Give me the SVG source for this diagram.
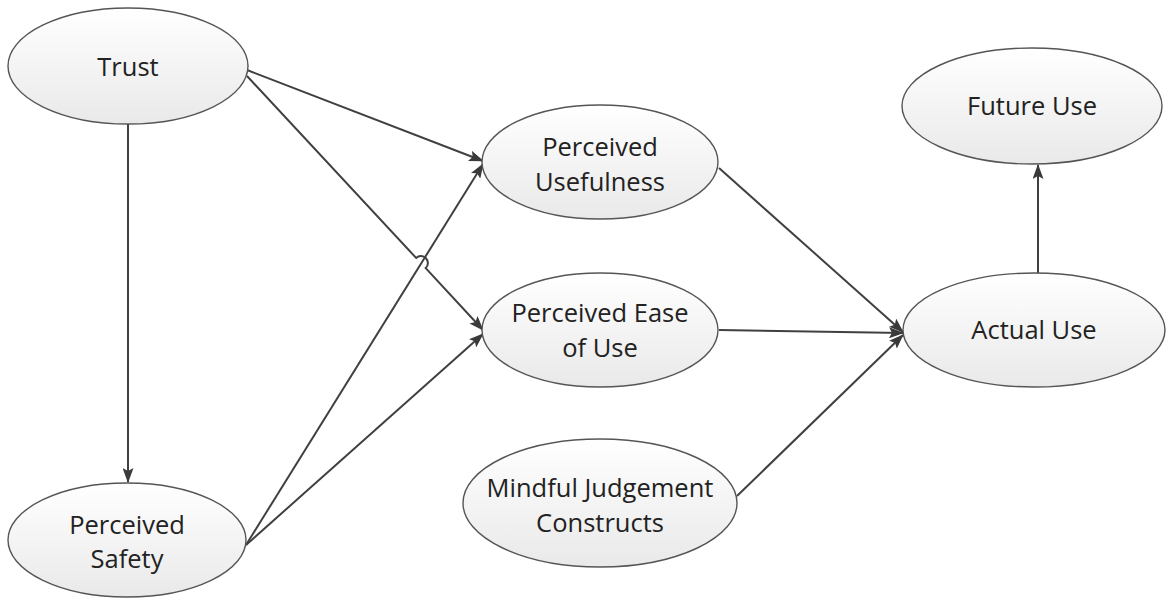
<svg xmlns="http://www.w3.org/2000/svg" width="1168" height="599" viewBox="0 0 1168 599">
<defs>
<linearGradient id="g" x1="0" y1="0" x2="0" y2="1">
<stop offset="0" stop-color="#ffffff"/>
<stop offset="1" stop-color="#e9e9e9"/>
</linearGradient>
<marker id="arr" viewBox="0 0 15 11" refX="14" refY="5.5" markerWidth="15" markerHeight="11" markerUnits="userSpaceOnUse" orient="auto">
<path d="M0,0 L15,5.5 L0,11 L3,5.5 Z" fill="#3a3a3a"/>
</marker>
<style>
.n ellipse{fill:url(#g);stroke:#555555;stroke-width:1.4}
.n text{font-family:"Open Sans","Liberation Sans",sans-serif;font-size:25.5px;fill:#222222;text-anchor:middle}
.c path,.c line{stroke:#404040;stroke-width:2;fill:none;marker-end:url(#arr)}
</style>
</defs>
<rect width="1168" height="599" fill="#fff"/>
<g class="c" id="connectors">
<line x1="128" y1="124" x2="128" y2="482"/>
<line x1="247" y1="70" x2="483" y2="161"/>
<path d="M247,76 L416.1,257.9 A7,7 0 0 1 425.7,268.1 L483,330"/>
<line x1="246" y1="545" x2="483" y2="164"/>
<line x1="246" y1="545" x2="483" y2="334"/>
<line x1="719" y1="168" x2="903" y2="332"/>
<line x1="719" y1="330" x2="903" y2="333"/>
<line x1="737" y1="496" x2="903" y2="335"/>
<line x1="1038" y1="273" x2="1038" y2="165"/>
</g>
<g class="n" id="trust"><ellipse cx="128" cy="66" rx="120" ry="58"/><text x="128" y="76">Trust</text></g>
<g class="n" id="perceived-safety"><ellipse cx="127" cy="540" rx="119" ry="57"/><text x="127" y="534">Perceived</text><text x="127" y="568">Safety</text></g>
<g class="n" id="perceived-usefulness"><ellipse cx="600" cy="162" rx="118" ry="57"/><text x="600" y="156">Perceived</text><text x="600" y="191">Usefulness</text></g>
<g class="n" id="perceived-ease"><ellipse cx="600" cy="330" rx="118" ry="57"/><text x="600" y="322">Perceived Ease</text><text x="600" y="357">of Use</text></g>
<g class="n" id="mindful"><ellipse cx="600" cy="503" rx="137" ry="64"/><text x="600" y="497">Mindful Judgement</text><text x="600" y="532">Constructs</text></g>
<g class="n" id="future-use"><ellipse cx="1032" cy="106" rx="130" ry="58"/><text x="1032" y="115">Future Use</text></g>
<g class="n" id="actual-use"><ellipse cx="1034" cy="330" rx="131" ry="57"/><text x="1034" y="339">Actual Use</text></g>
</svg>
